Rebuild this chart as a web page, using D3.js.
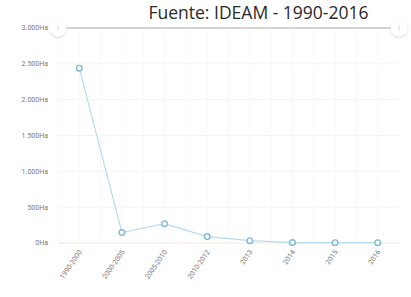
<!DOCTYPE html>
<html>
<head>
<meta charset="utf-8">
<script src="https://cdn.jsdelivr.net/npm/d3@7"></script>
<style>
  body { margin: 0; background: #fff; }
  svg { display: block; font-family: Roboto, "Open Sans", sans-serif; }
</style>
</head>
<body>
<div id="chart"></div>
<script>
const periods = ["1990-2000", "2000-2005", "2005-2010", "2010-2012", "2013", "2014", "2015", "2016"];
const hectares = [2440, 145, 270, 90, 32, 6, 4, 4];
const yTicks = [0, 500, 1000, 1500, 2000, 2500, 3000];
const title = "Fuente: IDEAM - 1990-2016";

const width = 411, height = 297;
const margin = {top: 28, right: 12, bottom: 54, left: 58};

const svg = d3.select("#chart")
    .append("svg")
    .attr("width", width)
    .attr("height", height);

const x = d3.scaleBand()
    .domain(periods)
    .range([margin.left, width - margin.right]);

const y = d3.scaleLinear()
    .domain([0, 3000])
    .range([height - margin.bottom, margin.top]);

const fmt = v => d3.format(",")(v).replace(/,/g, ".") + "Ha";

// faint grid
const grid = svg.append("g");
grid.selectAll("line.h")
    .data(yTicks.slice(1))
    .join("line")
    .attr("x1", margin.left).attr("x2", width - margin.right)
    .attr("y1", d => y(d)).attr("y2", d => y(d))
    .attr("stroke", "#f4f4f4");
const vx = [];
periods.forEach(p => { vx.push(x(p)); vx.push(x(p) + x.bandwidth() / 2); });
grid.selectAll("line.v")
    .data(vx)
    .join("line")
    .attr("x1", d => d).attr("x2", d => d)
    .attr("y1", margin.top).attr("y2", y(0))
    .attr("stroke", "#f8f8f8");

// baseline
svg.append("line")
    .attr("x1", margin.left).attr("x2", width - margin.right)
    .attr("y1", y(0)).attr("y2", y(0))
    .attr("stroke", "#f3e6da");

// y labels
svg.append("g")
    .selectAll("text")
    .data(yTicks)
    .join("text")
    .attr("x", 48)
    .attr("y", d => y(d))
    .attr("dy", "0.35em")
    .attr("text-anchor", "end")
    .attr("font-size", 7)
    .attr("fill", "#7a7a7a")
    .text(fmt);

// x labels
svg.append("g")
    .selectAll("text")
    .data(periods)
    .join("text")
    .attr("transform", d => `translate(${x(d) + x.bandwidth() / 2 + 3}, ${y(0) + 9}) rotate(-55)`)
    .attr("text-anchor", "end")
    .attr("font-size", 7)
    .attr("fill", "#7a7a7a")
    .text(d => d);

// top range bar with handles
svg.append("line")
    .attr("x1", margin.left).attr("x2", width - margin.right)
    .attr("y1", margin.top).attr("y2", margin.top)
    .attr("stroke", "#c4c4c4")
    .attr("stroke-width", 1.5);
const defs = svg.append("defs");
const f = defs.append("filter").attr("id", "sh").attr("x", "-50%").attr("y", "-50%").attr("width", "200%").attr("height", "200%");
f.append("feDropShadow").attr("dx", 0).attr("dy", 1).attr("stdDeviation", 1.2).attr("flood-color", "#000").attr("flood-opacity", 0.18);
svg.append("g")
    .selectAll("circle")
    .data([margin.left, width - margin.right])
    .join("circle")
    .attr("cx", d => d)
    .attr("cy", margin.top)
    .attr("r", 8.5)
    .attr("fill", "#fff")
    .attr("filter", "url(#sh)");
svg.append("g")
    .selectAll("line")
    .data([margin.left, width - margin.right])
    .join("line")
    .attr("x1", d => d).attr("x2", d => d)
    .attr("y1", margin.top - 2.5).attr("y2", margin.top + 2.5)
    .attr("stroke", "#d8d8d8");

// series
const line = d3.line()
    .x((d, i) => x(periods[i]) + x.bandwidth() / 2)
    .y(d => y(d));
svg.append("path")
    .datum(hectares)
    .attr("d", line)
    .attr("fill", "none")
    .attr("stroke", "#b5dcee")
    .attr("stroke-width", 1.2);
svg.append("g")
    .selectAll("circle")
    .data(hectares)
    .join("circle")
    .attr("cx", (d, i) => x(periods[i]) + x.bandwidth() / 2)
    .attr("cy", d => y(d))
    .attr("r", 2.8)
    .attr("fill", "#fff")
    .attr("stroke", "#7fb9d6")
    .attr("stroke-width", 1.4);

// title
svg.append("text")
    .attr("x", 258.5)
    .attr("y", 19)
    .attr("text-anchor", "middle")
    .attr("font-family", "'Open Sans', sans-serif")
    .attr("font-size", 17.5)
    .attr("fill", "#2a2a2a")
    .text(title);
</script>
</body>
</html>
